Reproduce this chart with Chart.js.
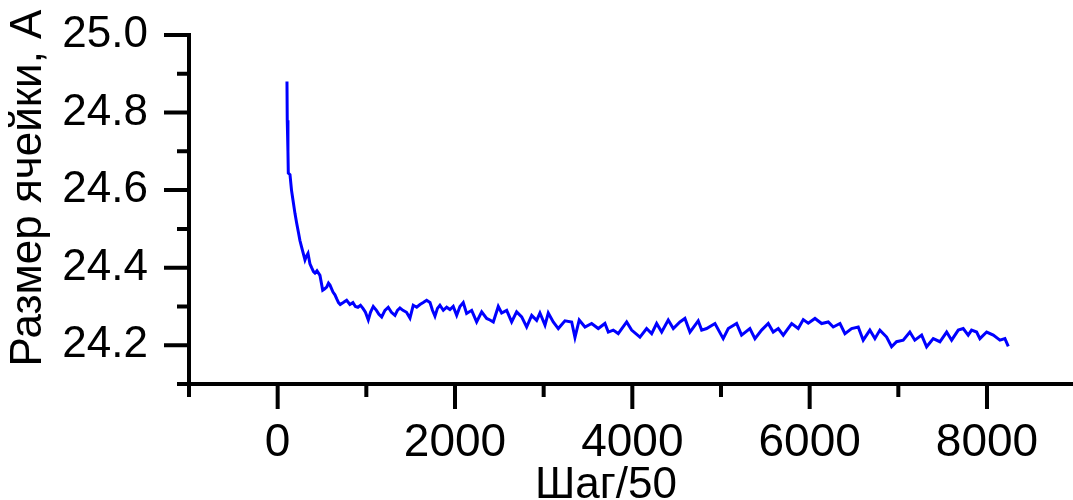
<!DOCTYPE html>
<html lang="ru">
<head>
<meta charset="utf-8">
<title>Размер ячейки</title>
<script src="https://cdn.jsdelivr.net/npm/chart.js@4.4.1/dist/chart.umd.min.js"></script>
<style>
  html, body { margin: 0; padding: 0; background: #fff; }
  #chart { display: block; }
</style>
</head>
<body>
<canvas id="chart" width="1073" height="500"></canvas>
<script>
// данные (шаг/50 -> размер ячейки)
const steps = [
  105, 108, 116, 120, 139, 156, 173, 195, 214, 235, 251, 268, 285, 308, 325, 342, 364, 383, 404, 421,
  443, 477, 508, 528, 553, 573, 590, 624, 646, 665, 686, 706, 740, 778, 815, 849, 877, 905, 934, 962,
  990, 1022, 1047, 1078, 1114, 1142, 1173, 1210, 1247, 1283, 1323, 1351, 1379, 1413, 1453, 1492, 1529, 1568, 1605, 1642,
  1680, 1718, 1746, 1774, 1802, 1830, 1868, 1906, 1943, 1980, 2019, 2056, 2093, 2131, 2188, 2244, 2301, 2357, 2394, 2432,
  2488, 2526, 2583, 2639, 2695, 2752, 2808, 2865, 2921, 2958, 3015, 3052, 3108, 3165, 3240, 3316, 3353, 3401, 3466, 3541,
  3616, 3691, 3729, 3785, 3841, 3936, 3992, 4086, 4161, 4218, 4274, 4331, 4405, 4462, 4537, 4593, 4650, 4743, 4782, 4838,
  4932, 5025, 5082, 5176, 5232, 5326, 5383, 5458, 5533, 5589, 5646, 5702, 5797, 5871, 5928, 5984, 6060, 6135, 6210, 6266,
  6342, 6398, 6473, 6548, 6604, 6679, 6736, 6792, 6868, 6924, 6980, 7055, 7130, 7186, 7263, 7319, 7394, 7469, 7545, 7601,
  7676, 7732, 7788, 7826, 7883, 7920, 7996, 8071, 8146, 8202, 8240
];
const cellSize = [
  24.88, 24.78, 24.70, 24.644, 24.64, 24.60, 24.574, 24.54, 24.515, 24.49, 24.47, 24.455, 24.44, 24.42, 24.43, 24.437, 24.41, 24.40, 24.39, 24.386,
  24.392, 24.38, 24.342, 24.345, 24.35, 24.36, 24.355, 24.337, 24.33, 24.32, 24.31, 24.305, 24.31, 24.316, 24.305, 24.31, 24.30, 24.298, 24.303, 24.295,
  24.285, 24.265, 24.285, 24.30, 24.29, 24.28, 24.273, 24.29, 24.298, 24.285, 24.277, 24.29, 24.296, 24.29, 24.285, 24.27, 24.303, 24.298, 24.305, 24.31,
  24.316, 24.31, 24.29, 24.275, 24.295, 24.303, 24.29, 24.298, 24.292, 24.30, 24.277, 24.30, 24.31, 24.282, 24.29, 24.26, 24.286, 24.269, 24.265, 24.26,
  24.30, 24.283, 24.29, 24.26, 24.286, 24.273, 24.247, 24.277, 24.264, 24.283, 24.252, 24.283, 24.26, 24.243, 24.263, 24.26, 24.22, 24.265, 24.247, 24.256,
  24.243, 24.256, 24.234, 24.239, 24.23, 24.26, 24.239, 24.221, 24.243, 24.23, 24.256, 24.234, 24.265, 24.243, 24.26, 24.269, 24.234, 24.263, 24.239, 24.243,
  24.256, 24.217, 24.243, 24.256, 24.226, 24.243, 24.217, 24.239, 24.256, 24.234, 24.243, 24.226, 24.256, 24.243, 24.266, 24.257, 24.269, 24.256, 24.26, 24.247,
  24.256, 24.23, 24.243, 24.247, 24.213, 24.239, 24.217, 24.239, 24.221, 24.196, 24.209, 24.213, 24.234, 24.213, 24.226, 24.196, 24.217, 24.209, 24.234, 24.213,
  24.239, 24.243, 24.226, 24.239, 24.234, 24.217, 24.234, 24.226, 24.213, 24.217, 24.197
];

// подписи и засечки осей
const xTickValues = [0, 2000, 4000, 6000, 8000];
const xMinorTicks = [-1000, 1000, 3000, 5000, 7000];
const yTickValues = [24.2, 24.4, 24.6, 24.8, 25.0];
const yMinorTicks = [24.1, 24.3, 24.5, 24.7, 24.9];
const xTitle = "Шаг/50";
const yTitle = "Размер ячейки, А";

const FONT = '"Liberation Sans", Arial, sans-serif';

// засечки разной длины и подписи осей рисуем сами
const axisDecor = {
  id: "axisDecor",
  afterDraw(chart) {
    const ctx = chart.ctx;
    const x = chart.scales.x;
    const y = chart.scales.y;
    const area = chart.chartArea;

    ctx.save();
    ctx.strokeStyle = "#000";
    ctx.lineWidth = 4;
    ctx.beginPath();
    xTickValues.forEach(function (v) {
      const px = x.getPixelForValue(v);
      ctx.moveTo(px, area.bottom);
      ctx.lineTo(px, area.bottom + 25);
    });
    xMinorTicks.forEach(function (v) {
      const px = x.getPixelForValue(v);
      ctx.moveTo(px, area.bottom);
      ctx.lineTo(px, area.bottom + 13);
    });
    yTickValues.forEach(function (v) {
      const py = y.getPixelForValue(v);
      ctx.moveTo(area.left, py);
      ctx.lineTo(area.left - 25, py);
    });
    yMinorTicks.forEach(function (v) {
      const py = y.getPixelForValue(v);
      ctx.moveTo(area.left, py);
      ctx.lineTo(area.left - 12, py);
    });
    ctx.stroke();

    ctx.fillStyle = "#000";
    ctx.font = "44px " + FONT;
    ctx.textAlign = "center";
    ctx.textBaseline = "middle";
    ctx.fillText(xTitle, 606, 486);

    ctx.translate(29, 188);
    ctx.rotate(-Math.PI / 2);
    ctx.fillText(yTitle, 0, 0);
    ctx.restore();
  }
};

const points = steps.map(function (s, i) {
  return { x: s, y: cellSize[i] };
});

new Chart(document.getElementById("chart"), {
  type: "line",
  data: {
    datasets: [{
      data: points,
      borderColor: "#0000ff",
      borderWidth: 3,
      pointRadius: 0,
      fill: false,
      tension: 0
    }]
  },
  options: {
    responsive: false,
    animation: false,
    devicePixelRatio: 1,
    layout: { padding: { top: 35, left: 0, right: 0, bottom: 0 } },
    plugins: {
      legend: { display: false },
      tooltip: { enabled: false }
    },
    scales: {
      x: {
        type: "linear",
        min: -1000,
        max: 8970,
        grid: { display: false, drawTicks: false },
        border: { display: true, color: "#000", width: 4 },
        ticks: {
          color: "#000",
          padding: 36,
          font: { family: FONT, size: 46, lineHeight: 1 },
          maxRotation: 0,
          callback: function (value) { return String(value); }
        },
        afterBuildTicks: function (scale) {
          scale.ticks = xTickValues.map(function (v) { return { value: v }; });
        },
        afterFit: function (scale) {
          scale.height = 116;
          scale.paddingLeft = 0;
          scale.paddingRight = 0;
        }
      },
      y: {
        type: "linear",
        min: 24.1,
        max: 25.0,
        grid: { display: false, drawTicks: false },
        border: { display: true, color: "#000", width: 4 },
        ticks: {
          color: "#000",
          padding: 41,
          font: { family: FONT, size: 44, lineHeight: 1 },
          callback: function (value) { return value.toFixed(1); }
        },
        afterBuildTicks: function (scale) {
          scale.ticks = yTickValues.map(function (v) { return { value: v }; });
        },
        afterFit: function (scale) {
          scale.width = 189;
          scale.paddingTop = 0;
          scale.paddingBottom = 0;
        }
      }
    }
  },
  plugins: [axisDecor]
});
</script>
</body>
</html>
